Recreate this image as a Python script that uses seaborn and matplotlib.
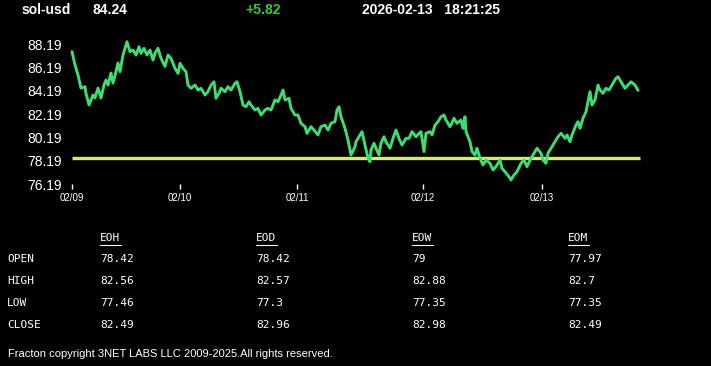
import numpy as np
import pandas as pd
import matplotlib
matplotlib.use("Agg")
import matplotlib.pyplot as plt
from matplotlib.lines import Line2D
import seaborn as sns

# header info
symbol = "sol-usd"
last_price = "84.24"
change = "+5.82"
stamp = "2026-02-13   18:21:25"
prev_close = 78.42

# price path (sample index, price)
idx = [0, 3, 6, 9, 13, 14, 17, 21, 23, 26, 29, 32, 34, 36, 39, 41, 44, 46, 48, 51,
       53, 55, 58, 61, 64, 67, 69, 72, 75, 78, 81, 83, 86, 89, 93, 96, 99, 103, 106, 108,
       111, 114, 116, 119, 123, 126, 129, 133, 136, 139, 142, 144, 147, 149, 153, 156, 159, 163, 165, 168,
       171, 174, 177, 179, 183, 186, 189, 193, 196, 199, 203, 206, 209, 211, 213, 217, 219, 223, 226, 229,
       233, 235, 239, 242, 246, 249, 253, 256, 259, 263, 265, 267, 269, 273, 276, 279, 283, 284, 288, 290,
       293, 296, 298, 299, 302, 304, 307, 309, 312, 314, 318, 321, 324, 327, 330, 334, 337, 340, 344, 347,
       349, 352, 354, 358, 360, 363, 366, 369, 372, 374, 378, 379, 382, 385, 389, 391, 393, 394, 398, 400,
       403, 405, 408, 411, 414, 418, 421, 424, 428, 430, 433, 437, 439, 442, 445, 449, 452, 455, 459, 462,
       465, 469, 471, 474, 476, 479, 483, 486, 489, 493, 495, 498, 500, 504, 506, 508, 511, 514, 516, 518,
       520, 523, 526, 528, 531, 534, 537, 540, 544, 546, 549, 553, 556, 559, 563, 566]
price = [87.56, 86.42, 85.56, 84.44, 84.56, 83.99, 82.99, 83.84, 83.59, 84.44, 83.59, 84.70, 85.13, 84.70, 85.73, 84.87, 85.84, 86.59, 85.84, 87.27,
         87.85, 88.41, 87.56, 87.70, 87.27, 87.98, 87.42, 87.85, 87.27, 87.70, 86.84, 87.42, 87.85, 86.99, 86.30, 87.27, 86.99, 86.13, 85.70, 86.56,
         86.13, 85.84, 84.70, 84.42, 84.70, 84.27, 84.42, 83.84, 84.13, 84.70, 84.98, 83.56, 83.99, 84.42, 84.13, 84.56, 84.27, 84.85, 84.98, 84.13,
         82.99, 82.84, 83.27, 82.99, 82.56, 82.70, 82.13, 82.56, 82.70, 82.56, 83.42, 83.27, 83.84, 84.27, 83.42, 83.56, 82.70, 82.13, 82.13, 81.42,
         81.13, 80.56, 81.13, 80.84, 80.42, 81.13, 81.27, 80.84, 81.42, 81.56, 82.56, 82.84, 81.98, 80.99, 79.99, 78.70, 79.41, 79.84, 80.42, 80.70,
         79.56, 78.42, 78.13, 79.13, 79.71, 79.28, 78.70, 79.71, 80.27, 79.84, 79.28, 80.13, 80.84, 80.13, 79.56, 80.13, 80.13, 80.70, 80.27, 80.56,
         80.70, 78.99, 80.56, 80.70, 80.42, 81.27, 81.56, 81.98, 82.13, 81.70, 81.13, 81.27, 81.85, 81.42, 81.70, 80.99, 81.98, 80.70, 79.84, 78.99,
         78.70, 79.28, 78.42, 77.85, 78.27, 77.99, 77.42, 77.70, 78.27, 77.56, 77.27, 76.84, 76.56, 76.99, 77.27, 77.99, 78.27, 77.70, 78.42, 78.85,
         79.28, 78.85, 78.27, 77.99, 78.85, 79.28, 79.84, 80.27, 80.56, 80.13, 80.42, 79.84, 80.42, 81.27, 81.56, 80.99, 81.85, 82.41, 83.27, 84.13,
         82.99, 83.42, 84.70, 84.27, 83.99, 84.42, 84.27, 84.70, 85.28, 85.41, 84.98, 84.42, 84.70, 84.98, 84.70, 84.24]

y_ticks = [76.19, 78.19, 80.19, 82.19, 84.19, 86.19, 88.19]
x_ticks = [0, 108, 225, 351, 470]
x_labels = ["02/09", "02/10", "02/11", "02/12", "02/13"]

# summary table
cols = ["EOH", "EOD", "EOW", "EOM"]
rows = ["OPEN", "HIGH", "LOW", "CLOSE"]
eoh = ["78.42", "82.56", "77.46", "82.49"]
eod = ["78.42", "82.57", "77.3", "82.96"]
eow = ["79", "82.88", "77.35", "82.98"]
eom = ["77.97", "82.7", "77.35", "82.49"]

df = pd.DataFrame({"idx": idx, "price": price})

sns.set_style("dark")
plt.rcParams["font.family"] = ["Liberation Sans", "DejaVu Sans"]

W, H = 711, 366
fig = plt.figure(figsize=(W / 100, H / 100), dpi=100, facecolor="black")
ax = fig.add_axes([70 / W, 1 - 184.3 / H, 572 / W, 149.3 / H])
ax.set_facecolor("black")
for s in ax.spines.values():
    s.set_visible(False)

ax.hlines(prev_close, 0, 568, color="#d2ea7a", linewidth=2.4, zorder=1)
sns.lineplot(data=df, x="idx", y="price", ax=ax, color="#3fdc72", linewidth=2.1, zorder=2)

ax.set_xlim(-2, 570)
ax.set_ylim(76.19, 88.99)
ax.set_yticks(y_ticks)
ax.set_yticklabels([f"{v:.2f}" for v in y_ticks])
ax.set_xticks(x_ticks)
ax.set_xticklabels(x_labels)
ax.tick_params(axis="y", left=False, length=0, pad=6, labelsize=10, labelcolor="white")
ax.tick_params(axis="x", bottom=True, length=3.5, width=1, color="white", pad=3, labelsize=7,
               labelcolor="white", direction="out")
ax.set_xlabel("")
ax.set_ylabel("")
ax.grid(False)

def fx(px):
    return px / W

def fy(py):
    return 1 - py / H

# header
fig.text(fx(22), fy(10), symbol, color="white", fontsize=10, fontweight="bold", va="center")
fig.text(fx(92), fy(10), last_price, color="white", fontsize=10, fontweight="bold", va="center")
fig.text(fx(245), fy(10), change, color="#33cc33", fontsize=10, fontweight="bold", va="center")
fig.text(fx(362), fy(10), stamp, color="white", fontsize=10, fontweight="bold", va="center")

# table
mono = ["DejaVu Sans Mono"]
col_x = [100, 256, 412, 568]
row_y = [259, 281, 303, 325]
vals = [eoh, eod, eow, eom]
for c, cx in zip(cols, col_x):
    fig.text(fx(cx), fy(238), c, color="white", fontsize=8, family=mono, va="center")
    fig.lines.append(Line2D([fx(cx), fx(cx + 21)], [fy(245), fy(245)], color="white", linewidth=0.8,
                            transform=fig.transFigure))
for r, ry in zip(rows, row_y):
    fig.text(fx(7), fy(ry), r, color="white", fontsize=8, family=mono, va="center")
for v, cx in zip(vals, col_x):
    for s, ry in zip(v, row_y):
        fig.text(fx(cx), fy(ry), s, color="white", fontsize=8, family=mono, va="center")

fig.text(fx(8), fy(354), "Fracton copyright 3NET LABS LLC 2009-2025.All rights reserved.",
         color="white", fontsize=8, va="center")

fig.savefig("out.png", dpi=100, facecolor="black")
